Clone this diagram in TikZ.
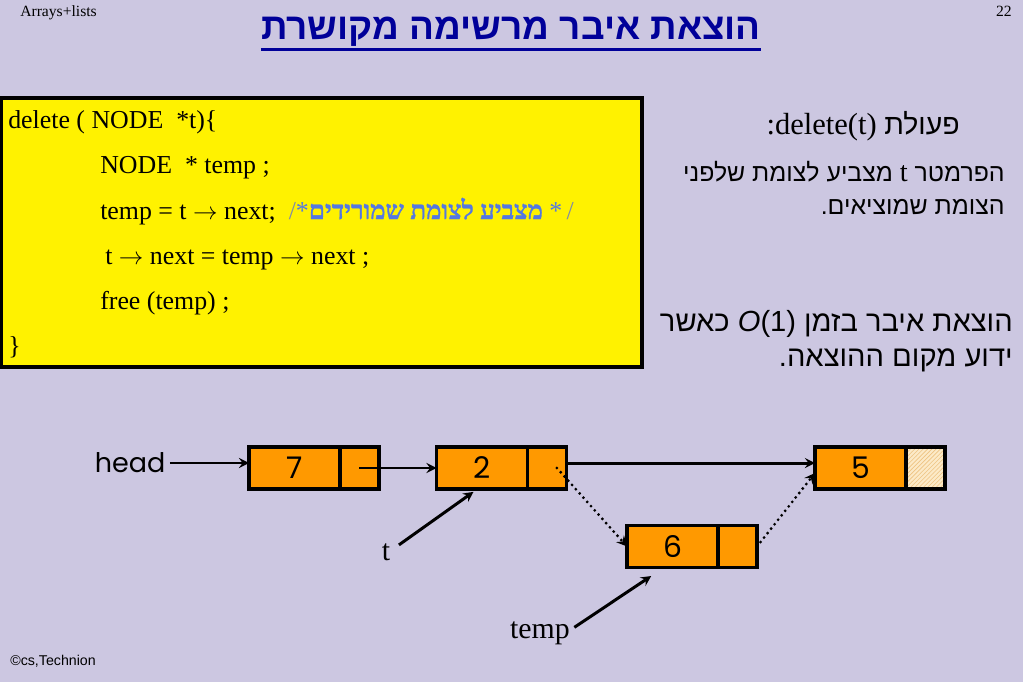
\documentclass[tikz,border=0pt]{standalone}
\usepackage{fontspec}
\setmainfont{Liberation Serif}
\newfontfamily\hebsans[Script=Hebrew]{Liberation Sans}
\newfontfamily\hebserif[Script=Hebrew,BoldFont={Liberation Serif Bold},BoldFeatures={FakeBold=1.2}]{Liberation Serif}
\newfontfamily\comic{Poppins}
\newfontfamily\arial{Liberation Sans}
\TeXXeTstate=1
\usetikzlibrary{positioning,patterns}
\definecolor{slidebg}{RGB}{204,199,225}
\definecolor{titleblue}{RGB}{0,0,153}
\definecolor{listorange}{RGB}{255,153,0}
\definecolor{nilfill}{RGB}{252,234,200}
\definecolor{nilline}{RGB}{238,195,130}
\definecolor{cmtblue}{RGB}{84,120,225}
\definecolor{slashgray}{RGB}{128,138,168}
\tikzset{
  cell/.style={draw,line width=2.6pt,fill=listorange,minimum width=64pt,minimum height=29.6pt,
    inner sep=0pt,outer sep=0pt,font=\comic\fontsize{21}{21}\selectfont},
  ptr/.style={cell,minimum width=27.5pt},
  nilptr/.style={ptr,preaction={fill=nilfill},pattern=north east lines,pattern color=nilline},
  link/.style={->,line width=2.1pt},
  dotlink/.style={->,line width=2.2pt,dash pattern=on 0pt off 4pt,line cap=round},
  codeline/.style={anchor=base west,inner sep=0pt,font=\fontsize{18.2}{20}\selectfont},
  rtlline/.style={anchor=base east,inner sep=0pt},
}
\begin{document}
\begin{tikzpicture}[x=0.704pt,y=-0.704pt,>=stealth]
\useasboundingbox (0,0) rectangle (1023,682);
\fill[slidebg] (0,0) rectangle (1023,682);
% header and footer
\node[anchor=base west,inner sep=0pt,font=\fontsize{11}{11}\selectfont] (topic) at (20,17) {Arrays+lists};
\node[anchor=base east,inner sep=0pt,font=\fontsize{11}{11}\selectfont] (pagenum) at (1012,17) {22};
\node[anchor=base west,inner sep=0pt,font=\arial\fontsize{10}{10}\selectfont] (credit) at (10,665) {©cs,Technion};
\node[anchor=base,inner sep=0pt,text=titleblue,font=\hebsans\bfseries\fontsize{26}{26}\selectfont] (title) at (511,40)
  {\beginR הוצאת איבר מרשימה מקושרת\endR};
\draw[titleblue,line width=2.2pt] ([yshift=-6.5pt]title.base west) -- ([yshift=-6.5pt]title.base east);
% code box
\node[draw,line width=2.6pt,fill=yellow,minimum width=450.9pt,minimum height=189.4pt] (code) at (321.75,232.5) {};
\node[codeline] (c1) at (8,129) {delete ( NODE\ \ *t)\{};
\node[codeline] (c2) at (100,174) {NODE\ \ * temp ;};
\node[codeline] (c3) at (100,219) {temp = t $\rightarrow$ next;\ \ {\color{slashgray}/}{\color{cmtblue}*{\hebserif\bfseries\beginR מצביע לצומת שמורידים\endR}\ *}{\color{slashgray}\,/}};
\node[codeline] (c4) at (105,264) {t $\rightarrow$ next = temp $\rightarrow$ next ;};
\node[codeline] (c5) at (100,309) {free (temp) ;};
\node[codeline] (c6) at (8,354) {\}};
% right column
\node[rtlline,font=\fontsize{21.5}{21.5}\selectfont] (op) at (960,135)
  {:delete(t) {\hebsans\fontsize{20}{20}\selectfont\beginR פעולת\endR}};
\node[rtlline,font=\hebsans\fontsize{17.5}{17.5}\selectfont] (par1a) at (1005,182)
  {\beginR הפרמטר {\rmfamily\fontsize{20}{20}\selectfont t} מצביע לצומת שלפני\endR};
\node[rtlline,font=\hebsans\fontsize{17.5}{17.5}\selectfont] (par1b) at (1005,215)
  {.\beginR הצומת שמוציאים\endR};
\node[rtlline,font=\hebsans\fontsize{20.5}{20.5}\selectfont] (par2a) at (1013,331)
  {\beginR כאשר\endR\ {\itshape O}(1) \beginR הוצאת איבר בזמן\endR};
\node[rtlline,font=\hebsans\fontsize{20.5}{20.5}\selectfont] (par2b) at (1013,366)
  {.\beginR ידוע מקום ההוצאה\endR};
% linked list
\node[cell] (n7) at (294.5,468) {7};
\node[ptr,right=0pt of n7] (n7p) {};
\node[cell] (n2) at (482,468) {2};
\node[ptr,right=0pt of n2] (n2p) {};
\node[cell] (n5) at (860.5,468) {5};
\node[nilptr,right=0pt of n5] (n5p) {};
\node[cell] (n6) at (672.5,546.5) {6};
\node[ptr,right=0pt of n6] (n6p) {};
\node[font=\comic\fontsize{19}{19}\selectfont,inner sep=3pt] (head) at (130,463) {head};
\node[font=\fontsize{21}{21}\selectfont,inner sep=1pt] (t) at (386,552) {t};
\node[font=\fontsize{21}{21}\selectfont,inner sep=1pt] (temp) at (540,633) {temp};
\draw[link] (head.east) -- (head.east -| n7.west);
\draw[link] (n7p.center) -- (n2.west);
\draw[link] ([yshift=3.5pt]n2p.east) -- ([yshift=3.5pt]n5.west);
\draw[dotlink] ([xshift=7pt]n2p.center) -- (n6.west);
\draw[dotlink] (n6p.east) -- ([yshift=-3.5pt]n5.west);
\draw[link] ([xshift=5pt,yshift=5pt]t.east) -- ([xshift=-6pt,yshift=-2pt]n2.south);
\draw[link] ([xshift=2pt,yshift=4pt]temp.east) -- ([xshift=-15pt,yshift=-6pt]n6.south);
\end{tikzpicture}
\end{document}
